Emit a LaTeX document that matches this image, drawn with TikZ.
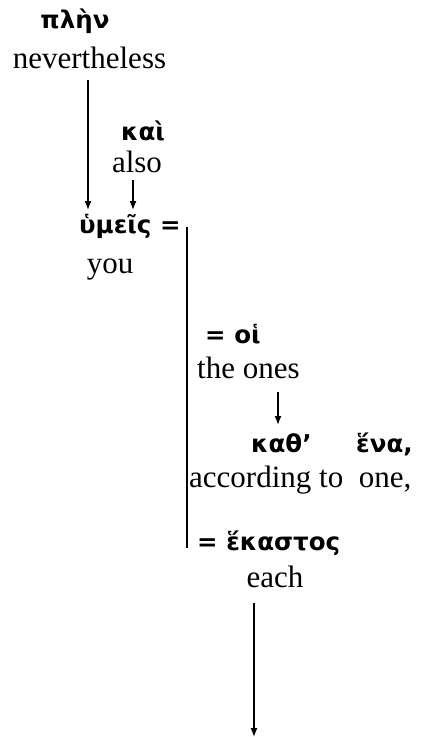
\documentclass[tikz,border=0pt]{standalone}
\usepackage{fontspec}
\setmainfont{Liberation Serif}
\newfontfamily\grk{DejaVu Sans}
\usetikzlibrary{arrows.meta,calc}
\begin{document}
\begin{tikzpicture}[x=1pt,y=-1pt,
  eng/.style={inner sep=0pt,font=\fontsize{31}{36}\selectfont},
  gr/.style={inner sep=0pt,font=\grk\bfseries\fontsize{24.5}{29}\selectfont},
  arr/.style={line width=1.3pt,-{Latex[length=9pt,width=7pt]}},
  brl/.style={line width=1.3pt}]
\useasboundingbox (0,0) rectangle (423,737);
\node[gr,anchor=base] (plen) at (75,28) {πλὴν};
\node[eng,anchor=base] (nev) at (89.5,68) {nevertheless};
\node[gr,anchor=base] (kai) at (143,140) {καὶ};
\node[eng,anchor=base] (also) at (137,172) {also};
\node[gr,anchor=base west] (hym) at (79,233) {ὑμεῖς =};
\node[eng,anchor=base] (you) at (110,273) {you};
\node[gr,anchor=base west] (hoi) at (205,343) {= οἱ};
\node[eng,anchor=base west] (ones) at (197,378) {the ones};
\node[gr,anchor=base west] (kath) at (251,452) {καθ’};
\node[gr,anchor=base west] (hena) at (356,452) {ἕνα,};
\node[eng,anchor=base west] (acc) at (189,487) {according to\ \ one,};
\node[gr,anchor=base west] (hek) at (197,550) {= ἕκαστος};
\node[eng,anchor=base] (each) at (275,587) {each};
\coordinate (brtop) at (187,227);
\coordinate (brbot) at (187,548);
\coordinate (endE) at (254,737);
\draw[arr] ($(nev.base)+(-1.5,12)$) -- ($(hym.base west)+(9,-23)$);
\draw[arr] ($(also.base)+(-4,8)$) -- ($(hym.base west)+(54,-23)$);
\draw[arr] ($(ones.base west)+(81,14)$) -- ($(kath.base west)+(27,-27)$);
\draw[brl] (brtop) -- (brbot);
\draw[arr] ($(each.base)+(-21,16)$) -- (endE);
\end{tikzpicture}
\end{document}
